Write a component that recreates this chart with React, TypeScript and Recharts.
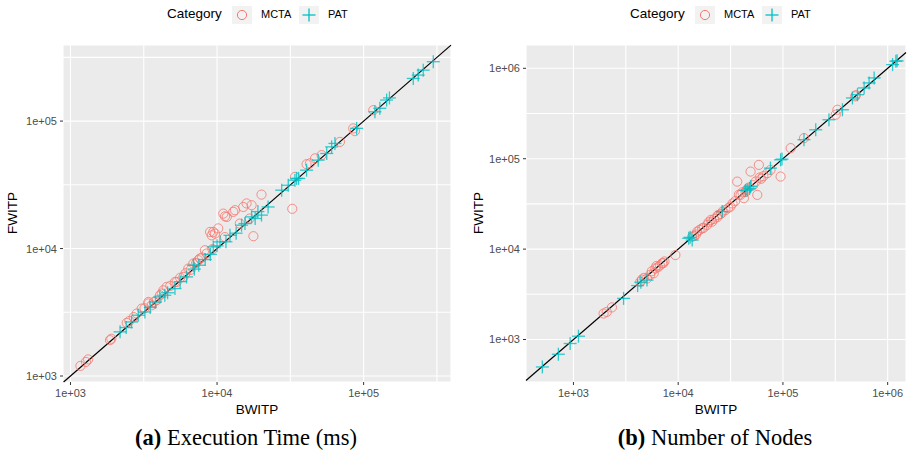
import React from "react"
import {
  ScatterChart,
  Scatter,
  XAxis,
  YAxis,
  CartesianGrid,
  ReferenceLine,
} from "recharts"

const RED = "#F8766D"
const CYAN = "#00BFC4"

// [BWITP, FWITP] pairs
const timeMcta: [number, number][] = [
  [1170, 1200], [1320, 1350], [1275, 1290], [1860, 1910], [1900, 1960],
  [2420, 2610], [2520, 2700], [2700, 2900], [2830, 3090], [3060, 3380],
  [3200, 3400], [3400, 3710], [3400, 3810], [3580, 3590], [3700, 3800],
  [3870, 3930], [4075, 4300], [4190, 4440], [4300, 4700], [4530, 5000],
  [4800, 5100], [5160, 5470], [5300, 5470], [5600, 5900], [5890, 5990],
  [6100, 6400], [6370, 6970], [6600, 6800], [6890, 7630], [7200, 7700],
  [7450, 8110], [7640, 8360], [7900, 8500], [8260, 9700], [8490, 9150],
  [9300, 9900], [8960, 13500], [9190, 12700], [9420, 13500], [9680, 13100],
  [10190, 14400], [11030, 18800], [11330, 17900], [11330, 12300], [11650, 17700],
  [12900, 19400], [13250, 20000], [14300, 15700], [15100, 21200], [15900, 22600],
  [16700, 17200], [17200, 21900], [17700, 12500], [20100, 26500], [32600, 20500],
  [34000, 36500], [40800, 45900], [43000, 46600], [46600, 51000], [51700, 54100],
  [68900, 68700], [84900, 87600], [87200, 83400], [116400, 121900],
]

const timePat: [number, number][] = [
  [2180, 2220], [2400, 2400], [2610, 2655], [2900, 3000], [3220, 3180],
  [3500, 3450], [3800, 3800], [4075, 4170], [4400, 4300], [4600, 4500],
  [5160, 4850], [5600, 5500], [6200, 5990], [6890, 7400], [7000, 6900],
  [7500, 7400], [8300, 8200], [9000, 9000], [9420, 10300], [10000, 10500],
  [10470, 11280], [11500, 11300], [12250, 12700], [13500, 13200], [14700, 15250],
  [15500, 15700], [17200, 17730], [18200, 17200], [19000, 19500], [20100, 18300],
  [22300, 21200], [27600, 28700], [30600, 31400], [34000, 34400], [34900, 35500],
  [36000, 35500], [40800, 41200], [49000, 49400], [56000, 55700], [60500, 62800],
  [63700, 66800], [89600, 87700], [119400, 118300], [129000, 126000], [143500, 146300],
  [150000, 152000], [218000, 216000], [235700, 229600], [255000, 251000], [298600, 292400],
]

const nodesMcta: [number, number][] = [
  [1940, 1940], [2080, 2020], [2330, 2265], [4345, 4350], [4500, 4600],
  [4700, 4800], [5040, 4730], [5400, 5200], [5600, 5700], [5840, 5400],
  [6050, 6120], [6200, 6500], [6400, 6300], [6700, 6600], [7020, 6970],
  [7200, 7000], [7400, 7300], [9400, 8600], [13600, 13700], [14200, 14000],
  [14800, 14500], [15170, 15600], [16000, 16300], [16900, 17000], [17500, 17200],
  [18900, 18500], [19500, 19800], [20500, 21000], [21100, 20100], [22000, 21500],
  [23500, 22500], [24000, 23800], [25500, 24500], [26500, 26000], [28300, 27100],
  [30000, 28500], [31600, 29500], [33000, 32000], [35000, 34000], [36600, 55800],
  [38000, 40000], [39400, 39800], [41000, 42500], [42400, 36600], [44000, 43000],
  [45000, 45500], [47000, 48000], [49100, 72100], [52000, 51000], [55000, 56000],
  [56900, 39800], [58900, 85500], [60000, 62000], [62000, 60000], [65000, 64000],
  [71000, 69200], [76000, 75000], [95000, 63500], [118600, 131000], [159000, 169000],
  [319000, 307000], [331000, 348000], [490000, 490000], [497000, 505000],
]

const nodesPat: [number, number][] = [
  [505, 497], [718, 687], [930, 903], [1117, 1088], [3010, 2850],
  [4100, 3950], [4400, 4300], [5040, 4540], [12600, 13180], [13000, 13500],
  [13600, 12600], [26300, 26000], [44000, 44500], [45600, 45200], [48000, 47000],
  [49100, 49200], [76000, 78700], [95000, 97300], [98000, 99000], [158800, 162400],
  [205700, 209000], [275000, 270000], [369800, 348000], [461000, 470000],
  [515000, 511000], [596000, 607000], [665000, 689000], [743000, 783000],
  [1114000, 1099000], [1197000, 1196000], [1230000, 1210000],
]

const majorTicks = [1e3, 1e4, 1e5, 1e6]
const minorTicks = [10 ** 3.5, 10 ** 4.5, 10 ** 5.5]

const toPoints = (rows: [number, number][]) => rows.map(([x, y]) => ({ x, y }))
const isMajor = (v: number) => majorTicks.some((m) => Math.abs(m - v) / m < 1e-6)
const fmt = (v: number) => `1e+0${Math.round(Math.log10(v))}`

const XTick = (props: any) => {
  const { x, y, payload } = props
  if (!isMajor(payload.value)) return null
  return (
    <g>
      <line x1={x} x2={x} y1={y - 6} y2={y - 3} stroke="#333" strokeWidth={1} />
      <text x={x} y={y} dy="0.78em" textAnchor="middle" fontSize={11} fill="#4D4D4D">
        {fmt(payload.value)}
      </text>
    </g>
  )
}

const YTick = (props: any) => {
  const { x, y, payload } = props
  if (!isMajor(payload.value)) return null
  return (
    <g>
      <line x1={x + 3} x2={x + 6} y1={y} y2={y} stroke="#333" strokeWidth={1} />
      <text x={x} y={y} dy="0.36em" textAnchor="end" fontSize={11} fill="#4D4D4D">
        {fmt(payload.value)}
      </text>
    </g>
  )
}

const Ring = (props: any) => (
  <circle cx={props.cx} cy={props.cy} r={4.6} fill="none" stroke={RED} strokeWidth={1} strokeOpacity={0.8} />
)

const Cross = (props: any) => {
  const { cx, cy } = props
  const h = 6.5
  return (
    <g stroke={CYAN} strokeWidth={1.3} strokeOpacity={0.8}>
      <line x1={cx - h} x2={cx + h} y1={cy} y2={cy} />
      <line x1={cx} x2={cx} y1={cy - h} y2={cy + h} />
    </g>
  )
}

interface PanelProps {
  mcta: [number, number][]
  pat: [number, number][]
  xDomain: [number, number]
  yDomain: [number, number]
  yAxisWidth: number
  marginRight: number
}

function Panel({ mcta, pat, xDomain, yDomain, yAxisWidth, marginRight }: PanelProps) {
  const ticksIn = (d: [number, number]) =>
    [...majorTicks, ...minorTicks].filter((t) => t >= d[0] && t <= d[1]).sort((a, b) => a - b)
  const lo = Math.max(xDomain[0], yDomain[0])
  const hi = Math.min(xDomain[1], yDomain[1])
  return (
    <ScatterChart
      width={456}
      height={420}
      margin={{ top: 45, right: marginRight, bottom: 0, left: 0 }}
    >
      <CartesianGrid fill="#EBEBEB" stroke="#FFFFFF" strokeWidth={1.1} />
      <XAxis
        type="number"
        dataKey="x"
        scale="log"
        domain={xDomain}
        allowDataOverflow
        ticks={ticksIn(xDomain)}
        interval={0}
        height={38}
        tickSize={3}
        tickMargin={3}
        tickLine={false}
        axisLine={false}
        tick={<XTick />}
      />
      <YAxis
        type="number"
        dataKey="y"
        scale="log"
        domain={yDomain}
        allowDataOverflow
        ticks={ticksIn(yDomain)}
        interval={0}
        width={yAxisWidth}
        tickSize={3}
        tickMargin={3}
        tickLine={false}
        axisLine={false}
        tick={<YTick />}
      />
      <Scatter data={toPoints(mcta)} shape={<Ring />} isAnimationActive={false} />
      <Scatter data={toPoints(pat)} shape={<Cross />} isAnimationActive={false} />
      <ReferenceLine
        segment={[{ x: lo, y: lo }, { x: hi, y: hi }]}
        stroke="#000"
        strokeWidth={1.2}
      />
    </ScatterChart>
  )
}

const abs = (left: number, top: number, extra: React.CSSProperties = {}): React.CSSProperties => ({
  position: "absolute",
  left,
  top,
  whiteSpace: "nowrap",
  ...extra,
})

function LegendRow({ left }: { left: number }) {
  const box: React.CSSProperties = { width: 20, height: 18, background: "#F2F2F2" }
  return (
    <>
      <div style={abs(left, 6, { fontSize: 13.5, color: "#000" })}>Category</div>
      <svg style={abs(left + 65, 6, box)} width={20} height={18}>
        <circle cx={10} cy={9} r={4.6} fill="none" stroke={RED} strokeWidth={1} />
      </svg>
      <div style={abs(left + 94, 8, { fontSize: 11, color: "#000" })}>MCTA</div>
      <svg style={abs(left + 132, 6, box)} width={20} height={18}>
        <g stroke={CYAN} strokeWidth={1.3}>
          <line x1={3.5} x2={16.5} y1={9} y2={9} />
          <line x1={10} x2={10} y1={2.5} y2={15.5} />
        </g>
      </svg>
      <div style={abs(left + 161, 8, { fontSize: 11, color: "#000" })}>PAT</div>
    </>
  )
}

export default function App() {
  return (
    <div
      style={{
        position: "absolute",
        left: 0,
        top: 0,
        width: 912,
        height: 457,
        background: "#fff",
        fontFamily: "'Liberation Sans', Arial, sans-serif",
        overflow: "hidden",
      }}
    >
      <div style={abs(0, 0)}>
        <Panel
          mcta={timeMcta}
          pat={timePat}
          xDomain={[10 ** 2.949, 10 ** 5.596]}
          yDomain={[10 ** 2.953, 10 ** 5.597]}
          yAxisWidth={63}
          marginRight={5}
        />
      </div>
      <div style={abs(456, 0)}>
        <Panel
          mcta={nodesMcta}
          pat={nodesPat}
          xDomain={[10 ** 2.547, 10 ** 6.175]}
          yDomain={[10 ** 2.53, 10 ** 6.258]}
          yAxisWidth={70}
          marginRight={6}
        />
      </div>

      <LegendRow left={167} />
      <LegendRow left={630} />

      <div style={abs(257, 402, { fontSize: 13.5, transform: "translateX(-50%)" })}>BWITP</div>
      <div style={abs(716, 402, { fontSize: 13.5, transform: "translateX(-50%)" })}>BWITP</div>
      <div style={abs(12, 213, { fontSize: 13.5, transform: "translate(-50%, -50%) rotate(-90deg)" })}>FWITP</div>
      <div style={abs(478, 213, { fontSize: 13.5, transform: "translate(-50%, -50%) rotate(-90deg)" })}>FWITP</div>

      <div
        style={abs(246, 425, {
          fontFamily: "'Liberation Serif', serif",
          fontSize: 22.5,
          transform: "translateX(-50%)",
        })}
      >
        <b>(a)</b> Execution Time (ms)
      </div>
      <div
        style={abs(715, 425, {
          fontFamily: "'Liberation Serif', serif",
          fontSize: 22.5,
          transform: "translateX(-50%)",
        })}
      >
        <b>(b)</b> Number of Nodes
      </div>
    </div>
  )
}
